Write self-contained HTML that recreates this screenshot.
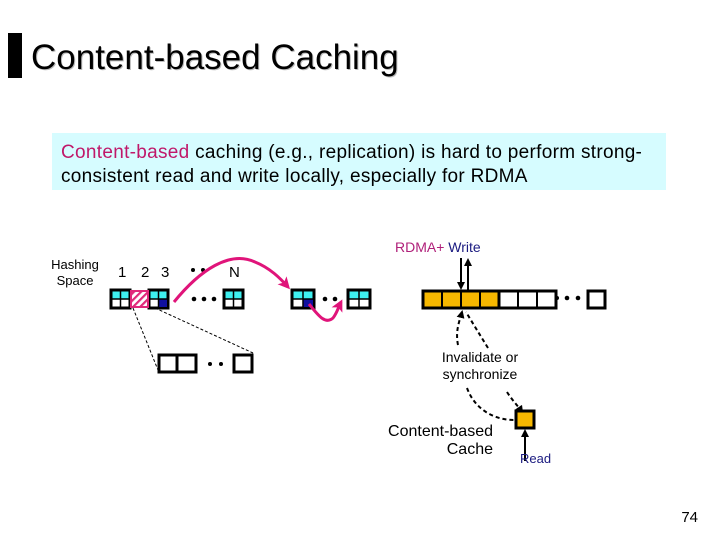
<!DOCTYPE html>
<html><head><meta charset="utf-8"><style>
html,body{margin:0;padding:0;background:#fff;}
svg{display:block;font-family:"Liberation Sans",Arial,sans-serif;}
</style></head><body>
<svg width="720" height="540" viewBox="0 0 720 540" xmlns="http://www.w3.org/2000/svg">
<defs>
<pattern id="h" width="5" height="5" patternUnits="userSpaceOnUse" patternTransform="rotate(45)">
<rect width="5" height="5" fill="#fff"/><rect width="2.2" height="5" fill="#e0287a"/></pattern>
<marker id="ab" markerWidth="8" markerHeight="8" refX="6" refY="4" orient="auto" markerUnits="userSpaceOnUse"><path d="M0,0 L8,4 L0,8 Z" fill="#000"/></marker>
<marker id="ap" markerWidth="12" markerHeight="12" refX="9" refY="6" orient="auto" markerUnits="userSpaceOnUse"><path d="M0,0 L12,6 L0,12 L3,6 Z" fill="#e0147a"/></marker>
</defs>
<rect x="8" y="33" width="14" height="45" fill="#000"/>
<text x="32" y="70" font-size="35" fill="#bbb">Content-based Caching</text>
<text x="31" y="69" font-size="35" fill="#000">Content-based Caching</text>
<rect x="52" y="133" width="614" height="57" fill="#d6fcff"/>
<text x="61" y="158" font-size="19" letter-spacing="0.3"><tspan fill="#c0186a">Content-based</tspan> caching (e.g., replication) is hard to perform strong-</text>
<text x="61" y="182" font-size="19" letter-spacing="0.3">consistent read and write locally, especially for RDMA</text>

<text x="75" y="269" font-size="13" text-anchor="middle">Hashing</text>
<text x="75" y="285" font-size="13" text-anchor="middle">Space</text>
<text x="118" y="277" font-size="15">1</text><text x="141" y="277" font-size="15">2</text><text x="161" y="277" font-size="15">3</text>
<text x="229" y="277" font-size="15">N</text>
<g fill="#000"><circle cx="193" cy="270" r="2"/><circle cx="203" cy="270" r="2"/></g>

<g stroke="#000">
<rect x="111" y="290" width="19" height="18" fill="#fff" stroke-width="3"/>
<rect x="112.5" y="291.5" width="16" height="7" fill="#3ef0f0" stroke="none"/>
<line x1="111" y1="299" x2="130" y2="299" stroke-width="1.5"/><line x1="120.5" y1="290" x2="120.5" y2="308" stroke-width="1.5"/>
<rect x="149" y="290" width="19" height="18" fill="#fff" stroke-width="3"/>
<rect x="150.5" y="291.5" width="16" height="7" fill="#3ef0f0" stroke="none"/>
<rect x="159" y="299" width="8" height="8" fill="#1010a0" stroke="none"/>
<line x1="149" y1="299" x2="168" y2="299" stroke-width="1.5"/><line x1="158.5" y1="290" x2="158.5" y2="308" stroke-width="1.5"/>
<rect x="224" y="290" width="19" height="18" fill="#fff" stroke-width="3"/>
<rect x="225.5" y="291.5" width="16" height="7" fill="#3ef0f0" stroke="none"/>
<line x1="224" y1="299" x2="243" y2="299" stroke-width="1.5"/><line x1="233.5" y1="290" x2="233.5" y2="308" stroke-width="1.5"/>
<rect x="292" y="290" width="22" height="18" fill="#fff" stroke-width="3"/>
<rect x="293.5" y="291.5" width="19" height="7" fill="#3ef0f0" stroke="none"/>
<rect x="303" y="299" width="10" height="8" fill="#1010a0" stroke="none"/>
<line x1="292" y1="299" x2="314" y2="299" stroke-width="1.5"/><line x1="303" y1="290" x2="303" y2="308" stroke-width="1.5"/>
<rect x="348" y="290" width="22" height="18" fill="#fff" stroke-width="3"/>
<rect x="349.5" y="291.5" width="19" height="7" fill="#3ef0f0" stroke="none"/>
<line x1="348" y1="299" x2="370" y2="299" stroke-width="1.5"/><line x1="359" y1="290" x2="359" y2="308" stroke-width="1.5"/>
</g>
<rect x="131" y="291" width="17" height="16" fill="url(#h)" stroke="#e0287a" stroke-width="2"/>
<g fill="#000"><circle cx="194" cy="299" r="2.3"/><circle cx="204" cy="299" r="2.3"/><circle cx="214" cy="299" r="2.3"/>
<circle cx="325" cy="299" r="2.3"/><circle cx="335" cy="299" r="2.3"/>
<circle cx="210" cy="364" r="2"/><circle cx="221" cy="364" r="2"/></g>
<line x1="133" y1="308" x2="158" y2="370" stroke="#000" stroke-dasharray="3,2"/>
<line x1="155" y1="308" x2="253" y2="353" stroke="#000" stroke-dasharray="3,2"/>
<g fill="#fff" stroke="#000" stroke-width="3">
<rect x="159" y="355" width="18" height="17"/><rect x="177" y="355" width="19" height="17"/><rect x="234" y="355" width="18" height="17"/>
</g>
<path d="M174,302 C200,270 230,250 255,262 C270,268 280,278 288,287" fill="none" stroke="#e0147a" stroke-width="3" marker-end="url(#ap)"/>
<path d="M309,304 C318,315 325,325 333,318 C337,313 338,308 341,302" fill="none" stroke="#e0147a" stroke-width="3" marker-end="url(#ap)"/>

<text x="395" y="252" font-size="14" fill="#b0207a">RDMA+ <tspan fill="#1a1a80">Write</tspan></text>
<line x1="461" y1="258" x2="461" y2="288" stroke="#000" stroke-width="2" marker-end="url(#ab)"/>
<line x1="468" y1="290" x2="468" y2="260" stroke="#000" stroke-width="2" marker-end="url(#ab)"/>
<g stroke="#000" stroke-width="3">
<rect x="423" y="291" width="76" height="17" fill="#f7b800"/>
<rect x="499" y="291" width="57" height="17" fill="#fff"/>
<rect x="588" y="291" width="17" height="17" fill="#fff"/>
</g>
<g stroke="#000" stroke-width="2"><line x1="442" y1="291" x2="442" y2="308"/><line x1="461" y1="291" x2="461" y2="308"/><line x1="480" y1="291" x2="480" y2="308"/><line x1="518" y1="291" x2="518" y2="308"/><line x1="537" y1="291" x2="537" y2="308"/></g>
<g fill="#000"><circle cx="557" cy="298" r="2"/><circle cx="567" cy="298" r="2.3"/><circle cx="578" cy="298" r="2.3"/></g>
<g fill="none" stroke="#000" stroke-width="2" stroke-dasharray="4,3">
<path d="M458,345 C455,330 460,320 462,312" marker-end="url(#ab)"/>
<path d="M488,348 C480,335 472,322 466,312"/>
<path d="M467,388 C475,410 495,420 514,420"/>
<path d="M507,392 C512,400 518,406 522,412" marker-end="url(#ab)"/>
</g>
<rect x="516" y="411" width="18" height="17" fill="#f7b800" stroke="#000" stroke-width="3"/>
<line x1="525" y1="461" x2="525" y2="431" stroke="#000" stroke-width="2" marker-end="url(#ab)"/>
<text x="480" y="362" font-size="14" text-anchor="middle">Invalidate or</text>
<text x="480" y="379" font-size="14" text-anchor="middle">synchronize</text>
<text x="493" y="436" font-size="16" text-anchor="end">Content-based</text>
<text x="493" y="454" font-size="16" text-anchor="end">Cache</text>
<text x="520" y="463" font-size="13" fill="#1a1a80">Read</text>
<text x="698" y="522" font-size="15" text-anchor="end">74</text>
</svg>
</body></html>
